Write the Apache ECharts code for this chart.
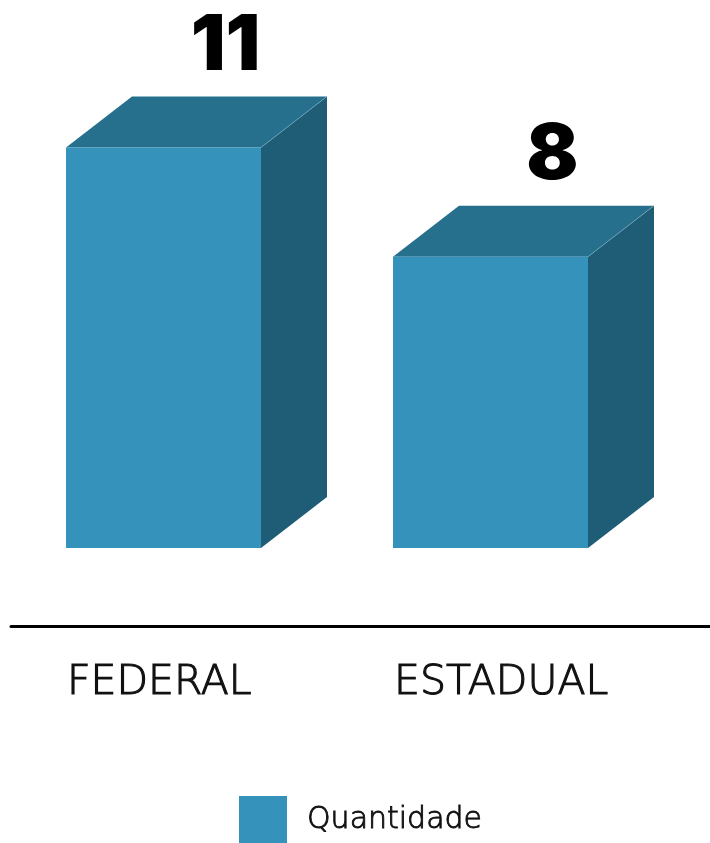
<!DOCTYPE html>
<html>
<head>
<meta charset="utf-8">
<style>
  html, body { margin: 0; padding: 0; background: #ffffff; }
  #chart { width: 710px; height: 843px; }
</style>
<script src="https://cdn.jsdelivr.net/npm/echarts@6/dist/echarts.min.js"></script>
</head>
<body>
<div id="chart"></div>
<script>
// Categories and values
const categories = ['FEDERAL', 'ESTADUAL'];
const quantidade = [11, 8];
const seriesName = 'Quantidade';

// Box face colours
const FRONT = '#3492bb';
const TOP = '#26708d';
const SIDE = '#1f5c75';

const FACE_W = 195;   // front face width, px
const DEPTH_X = 66;   // receding depth, px
const DEPTH_Y = 51;

const TEXT_COLOR = '#111111';

const chart = echarts.init(document.getElementById('chart'), null, { renderer: 'canvas' });

function renderBox(params, api) {
  const idx = api.value(0);
  const val = api.value(1);
  const topPt = api.coord([idx, val]);
  const basePt = api.coord([idx, 0]);
  const x0 = topPt[0] - FACE_W / 2;
  const x1 = x0 + FACE_W;
  const yT = topPt[1];
  const yB = basePt[1];
  return {
    type: 'group',
    children: [
      {
        type: 'polygon',
        shape: { points: [[x1, yT], [x1 + DEPTH_X, yT - DEPTH_Y], [x1 + DEPTH_X, yB - DEPTH_Y], [x1, yB]] },
        style: { fill: SIDE }
      },
      {
        type: 'polygon',
        shape: { points: [[x0, yT], [x0 + DEPTH_X, yT - DEPTH_Y], [x1 + DEPTH_X, yT - DEPTH_Y], [x1, yT]] },
        style: { fill: TOP }
      },
      {
        type: 'line',
        shape: { x1: x1, y1: yT, x2: x1 + DEPTH_X, y2: yT - DEPTH_Y },
        style: { stroke: 'rgba(140,190,210,0.45)', lineWidth: 1 }
      },
      {
        type: 'rect',
        shape: { x: x0, y: yT, width: FACE_W, height: yB - yT },
        style: { fill: FRONT }
      },
      {
        type: 'text',
        style: {
          x: topPt[0] + 62,
          y: yT - DEPTH_Y - 50,
          text: String(val),
          fill: '#000000',
          font: '900 77px Inter',
          align: 'center',
          verticalAlign: 'middle'
        }
      }
    ]
  };
}

const option = {
  animation: false,
  backgroundColor: '#ffffff',
  legend: {
    data: [seriesName],
    left: 239,
    top: 796,
    padding: 0,
    icon: 'rect',
    itemWidth: 48,
    itemHeight: 48,
    textStyle: {
      fontFamily: 'DejaVu Sans',
      fontWeight: 200,
      fontSize: 30,
      color: TEXT_COLOR,
      textBorderColor: TEXT_COLOR,
      textBorderWidth: 0.9,
      padding: [0, 0, 0, 15]
    }
  },
  grid: [
    { left: 0, width: 654, top: 111, bottom: 295 },
    { left: 11, right: 0, top: 620, bottom: 217 }
  ],
  xAxis: [
    {
      gridIndex: 0,
      type: 'category',
      data: categories,
      offset: 78,
      axisLine: { show: false },
      axisTick: { show: false },
      axisLabel: {
        margin: 37,
        formatter: function (v) { return '{n|' + v + '}'; },
        rich: {
          n: {
            width: FACE_W,
            align: 'left',
            padding: [0, 0, 0, 2],
            fontFamily: 'DejaVu Sans',
            fontWeight: 200,
            fontSize: 41,
            color: TEXT_COLOR,
            textBorderColor: TEXT_COLOR,
            textBorderWidth: 1.1
          }
        }
      }
    },
    {
      gridIndex: 1,
      type: 'category',
      data: [''],
      axisLine: { show: true, lineStyle: { color: '#000000', width: 3 } },
      axisTick: { show: false },
      axisLabel: { show: false }
    }
  ],
  yAxis: [
    { gridIndex: 0, type: 'value', min: 0, max: 12, show: false },
    { gridIndex: 1, type: 'value', show: false }
  ],
  series: [
    {
      name: seriesName,
      type: 'custom',
      xAxisIndex: 0,
      yAxisIndex: 0,
      itemStyle: { color: FRONT },
      renderItem: renderBox,
      encode: { x: 0, y: 1 },
      data: quantidade.map(function (v, i) { return [i, v]; })
    }
  ]
};

chart.setOption(option);
</script>
</body>
</html>
